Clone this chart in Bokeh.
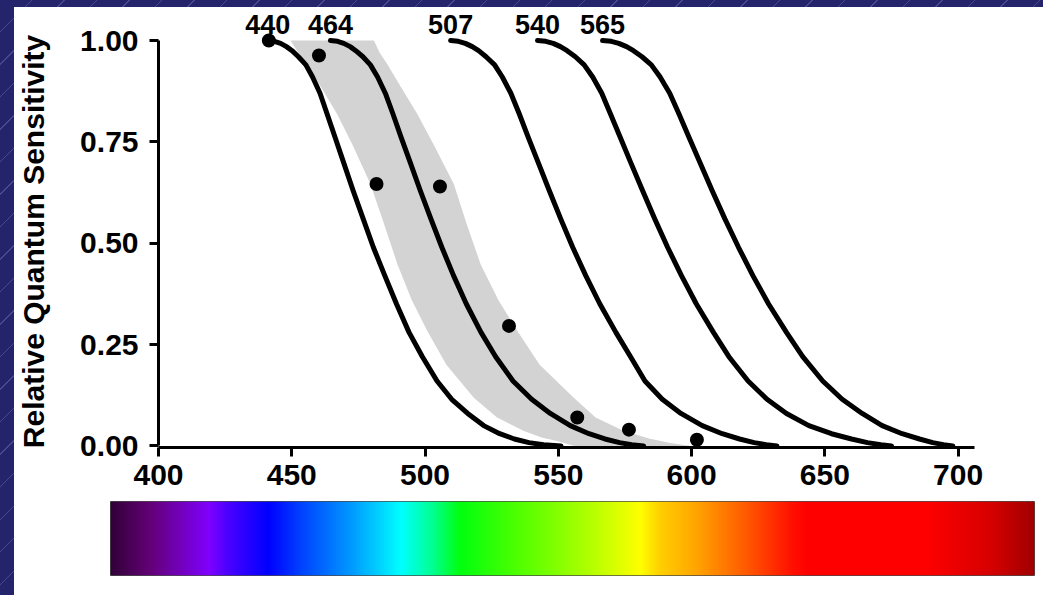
import numpy as np
from bokeh.plotting import figure
from bokeh.models import Range1d, FixedTicker, PrintfTickFormatter
from bokeh.embed import file_html
from bokeh.resources import INLINE
from bokeh.core.properties import value

# ---------------- data ----------------
levels = [1.0, 0.998, 0.993, 0.985, 0.975, 0.96, 0.94, 0.91, 0.87, 0.82,
          0.76, 0.70, 0.63, 0.56, 0.49, 0.42, 0.35, 0.28, 0.22, 0.16,
          0.115, 0.08, 0.05, 0.03, 0.017, 0.008, 0.003, 0.0]

nm_440 = [441.0, 443.5, 445.8, 448.0, 450.1, 452.5, 455.3, 457.8, 460.6, 463.2,
          466.3, 469.4, 473.0, 476.8, 480.6, 484.9, 489.3, 494.0, 499.0, 504.5,
          510.0, 516.0, 522.0, 528.0, 533.5, 539.0, 544.5, 551.0]
nm_464 = [464.5, 467.2, 469.5, 471.9, 474.0, 476.7, 479.5, 482.2, 485.1, 487.9,
          491.1, 494.4, 498.2, 502.2, 506.3, 510.7, 515.5, 521.0, 526.5, 533.0,
          540.0, 547.0, 554.5, 561.5, 567.5, 573.0, 577.5, 582.0]
nm_507 = [509.6, 512.5, 515.1, 517.7, 520.1, 522.9, 526.1, 529.0, 532.2, 535.3,
          538.8, 542.4, 546.6, 550.9, 555.4, 560.3, 565.6, 571.6, 577.1, 582.5,
          589.0, 596.0, 604.0, 611.5, 618.0, 623.5, 628.0, 632.0]
nm_540 = [542.2, 545.3, 548.1, 550.8, 553.3, 556.4, 559.7, 562.9, 566.3, 569.5,
          573.3, 577.1, 581.6, 586.2, 591.0, 596.2, 601.8, 608.2, 614.0, 621.2,
          628.3, 635.6, 644.0, 652.5, 660.0, 666.0, 671.0, 675.0]
nm_565 = [566.6, 569.9, 572.7, 575.6, 578.2, 581.4, 584.9, 588.2, 591.8, 595.2,
          599.1, 603.1, 607.7, 612.5, 617.6, 623.0, 628.9, 635.6, 641.7, 649.2,
          656.5, 664.0, 671.5, 679.0, 685.5, 690.5, 694.5, 698.0]

curve_labels = ["440", "464", "507", "540", "565"]

dot_nm = [441.4, 460.2, 481.8, 505.6, 531.5, 557.1, 576.5, 602.0]
dot_val = [1.0, 0.963, 0.646, 0.640, 0.296, 0.070, 0.040, 0.015]

band_left_nm = [449.5, 452.5, 455.8, 461.0, 467.0, 473.0, 479.5, 484.5, 489.6,
                495.0, 500.8, 508.0, 518.3, 527.0, 537.1, 544.0, 549.6, 556.0]
band_left_val = [1.0, 0.97, 0.942, 0.885, 0.819, 0.74, 0.646, 0.55, 0.449,
                 0.36, 0.284, 0.20, 0.119, 0.07, 0.037, 0.02, 0.012, 0.0]
band_right_nm = [480.8, 483.0, 485.8, 491.0, 497.1, 503.5, 510.8, 515.5, 520.8,
                 527.5, 534.6, 543.0, 555.8, 564.0, 574.6, 584.0, 592.0, 599.6]
band_right_val = [1.0, 0.97, 0.942, 0.885, 0.819, 0.74, 0.646, 0.55, 0.449,
                  0.36, 0.284, 0.20, 0.119, 0.07, 0.037, 0.018, 0.007, 0.0]

x_ticks = [400, 450, 500, 550, 600, 650, 700]
y_ticks = [0.0, 0.25, 0.50, 0.75, 1.0]
y_title = "Relative Quantum Sensitivity"

# spectrum bar colour stops (wavelength, colour)
spec_nm = [382, 397, 419, 426, 441, 453, 472, 491, 503, 513, 535, 553,
           581, 588, 601, 619, 638, 644, 688, 712, 729]
spec_col = ["#320038", "#650078", "#8000ff", "#4a00ff", "#0000ff", "#0040ff",
            "#0098ff", "#00ffff", "#00ff90", "#00ff10", "#50ff00", "#90ff00",
            "#ffff00", "#ffd000", "#ffa800", "#ff6000", "#ff1000", "#ff0000",
            "#ff0000", "#d80000", "#a00000"]

FONT = "Liberation Sans"

# ---------------- main chart ----------------
p = figure(width=1029, height=493,
           x_range=Range1d(400, 715.9), y_range=Range1d(-0.004, 1.0741),
           output_backend="svg", toolbar_location=None,
           min_border_left=144, min_border_right=43,
           min_border_top=3, min_border_bottom=53,
           styles={"background-color": "white"})
p.outline_line_color = None
p.grid.visible = False
p.background_fill_color = "white"
p.border_fill_color = "white"

band_x = band_left_nm + band_right_nm[::-1]
band_y = band_left_val + band_right_val[::-1]
p.patch(band_x, band_y, fill_color="#d3d3d3", line_color=None)

for nm in [nm_440, nm_464, nm_507, nm_540, nm_565]:
    p.line(nm, levels, line_color="black", line_width=5,
           line_join="round", line_cap="round")

p.scatter(dot_nm, dot_val, size=14, fill_color="black", line_color=None)

label_x = [nm_440[0], nm_464[0], nm_507[0], nm_540[0], nm_565[0]]
p.text(x=label_x, y=[1.0397] * 5, text=curve_labels,
       text_align="center", text_baseline="middle",
       text_font=value(FONT), text_font_size="27px", text_font_style="bold",
       text_color="black")

for ax in (p.xaxis, p.yaxis):
    ax.axis_line_width = 3
    ax.axis_line_color = "black"
    ax.major_tick_line_width = 3
    ax.major_tick_line_color = "black"
    ax.major_tick_out = 9
    ax.major_tick_in = 0
    ax.minor_tick_line_color = None
    ax.major_label_text_font = FONT
    ax.major_label_text_font_size = "30px"
    ax.major_label_text_font_style = "bold"
    ax.major_label_text_color = "black"

p.xaxis.ticker = FixedTicker(ticks=x_ticks)
p.xaxis.bounds = (400, 706)
p.xaxis.major_label_standoff = 8

p.yaxis.ticker = FixedTicker(ticks=y_ticks)
p.yaxis.formatter = PrintfTickFormatter(format="%.2f")
p.yaxis.bounds = (0, 1)
p.yaxis.major_label_standoff = 11
# trailing no-break spaces keep the title centred on the 0..1 span
p.yaxis.axis_label = y_title + "\u00a0\u00a0\u00a0"
p.yaxis.axis_label_text_font = FONT
p.yaxis.axis_label_text_font_style = "bold"
p.yaxis.axis_label_text_font_size = "30px"
p.yaxis.axis_label_text_color = "black"
p.yaxis.axis_label_standoff = 27

# ---------------- spectrum bar ----------------
bar_start, bar_end = 382.0, 728.7
p2 = figure(width=1029, height=95,
            x_range=Range1d(bar_start, bar_end), y_range=Range1d(0, 1),
            output_backend="svg", toolbar_location=None,
            x_axis_location=None, y_axis_location=None,
            min_border_left=96, min_border_right=9,
            min_border_top=1, min_border_bottom=20,
            styles={"background-color": "white"})
p2.grid.visible = False
p2.outline_line_color = "#4a4a4a"
p2.outline_line_width = 1
p2.border_fill_color = "white"

ncol = 924
xs = np.linspace(bar_start, bar_end, ncol)
rgb = np.array([[int(c[1:3], 16), int(c[3:5], 16), int(c[5:7], 16)] for c in spec_col], dtype=float)
img = np.empty((1, ncol), dtype=np.uint32)
view = img.view(dtype=np.uint8).reshape((1, ncol, 4))
for k in range(3):
    view[0, :, k] = np.clip(np.interp(xs, spec_nm, rgb[:, k]), 0, 255).astype(np.uint8)
view[0, :, 3] = 255
p2.image_rgba(image=[img], x=bar_start, y=0, dw=bar_end - bar_start, dh=1)

html = file_html([p, p2], INLINE)
body_tag = ('<body style="margin:0;padding:7px 0 0 14px;overflow:hidden;'
            'font-size:0;line-height:0;background-color:#24246c;'
            'background-image:repeating-linear-gradient(135deg, rgba(0,0,0,0) 0px, '
            'rgba(0,0,0,0) 22px, rgba(140,140,210,0.35) 22px, rgba(140,140,210,0.35) 23px);">')
i = html.rfind("<body")
j = html.find(">", i)
if i >= 0 and j > i:
    html = html[:i] + body_tag + html[j + 1:]
open("out.html", "w").write(html)
